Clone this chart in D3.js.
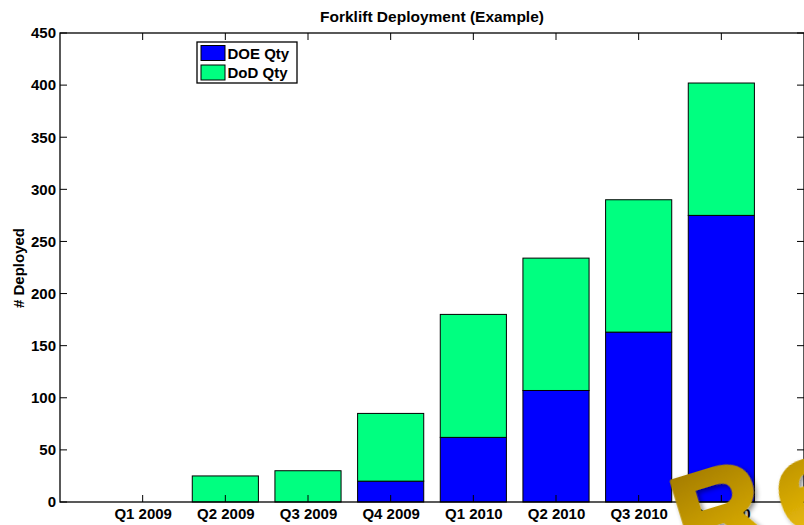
<!DOCTYPE html>
<html>
<head>
<meta charset="utf-8">
<script src="https://cdn.jsdelivr.net/npm/d3@7"></script>
<style>
html,body{margin:0;padding:0;background:#fff;overflow:hidden;}
svg{display:block;font-family:"Liberation Sans",Arial,sans-serif;}
</style>
</head>
<body>
<svg id="chart" width="804" height="525"></svg>
<script>
const categories = ["Q1 2009","Q2 2009","Q3 2009","Q4 2009","Q1 2010","Q2 2010","Q3 2010","Q4 2010"];
const doeQty = [0,0,0,20,62,107,163,275];
const dodQty = [0,25,30,65,118,127,127,127];
const yTicks = [0,50,100,150,200,250,300,350,400,450];
const seriesNames = ["DOE Qty","DoD Qty"];
const seriesColors = ["#0000ff","#00ff80"];

const svg = d3.select("#chart");
const L = 60, R = 804, T = 33, B = 502;

const x = d3.scaleLinear().domain([0, categories.length + 1]).range([L, R]);
const y = d3.scaleLinear().domain([0, 450]).range([B, T]);
const bw = (x(1) - x(0)) * 0.8;

// watermark defs
const defs = svg.append("defs");
const grad = defs.append("linearGradient").attr("id","gold").attr("x1","0").attr("y1","0").attr("x2","0.3").attr("y2","1");
grad.append("stop").attr("offset","0%").attr("stop-color","#967000");
grad.append("stop").attr("offset","50%").attr("stop-color","#c39800");
grad.append("stop").attr("offset","100%").attr("stop-color","#eebf0c");
const f = defs.append("filter").attr("id","shadow").attr("x","-20%").attr("y","-20%").attr("width","140%").attr("height","140%");
f.append("feDropShadow").attr("dx",2).attr("dy",3).attr("stdDeviation",2.5).attr("flood-color","#000").attr("flood-opacity",0.45);

// stacked bars
const stack = categories.map((c,i)=>({c, i, doe: doeQty[i], dod: dodQty[i]}));
const g = svg.append("g");
g.selectAll("rect.doe").data(stack).join("rect").attr("class","doe")
  .attr("x", d => x(d.i+1) - bw/2).attr("width", bw)
  .attr("y", d => y(d.doe)).attr("height", d => y(0) - y(d.doe))
  .attr("fill", seriesColors[0]).attr("stroke","#000").attr("stroke-width",1);
g.selectAll("rect.dod").data(stack).join("rect").attr("class","dod")
  .attr("x", d => x(d.i+1) - bw/2).attr("width", bw)
  .attr("y", d => y(d.doe + d.dod)).attr("height", d => y(d.doe) - y(d.doe + d.dod))
  .attr("fill", seriesColors[1]).attr("stroke","#000").attr("stroke-width",1);

// axes
const axisG = svg.append("g").attr("stroke","#000").attr("stroke-width",1.3).attr("fill","none");
axisG.append("rect").attr("x",L).attr("y",T).attr("width",R-L).attr("height",B-T);

const tickLen = 7;
const tickG = svg.append("g").attr("stroke","#000").attr("stroke-width",1);
yTicks.forEach(t=>{
  tickG.append("line").attr("x1",L).attr("x2",L+tickLen).attr("y1",y(t)).attr("y2",y(t));
  tickG.append("line").attr("x1",R-tickLen).attr("x2",R).attr("y1",y(t)).attr("y2",y(t));
});
categories.forEach((c,i)=>{
  tickG.append("line").attr("x1",x(i+1)).attr("x2",x(i+1)).attr("y1",B).attr("y2",B-tickLen);
  tickG.append("line").attr("x1",x(i+1)).attr("x2",x(i+1)).attr("y1",T).attr("y2",T+tickLen);
});

const FS = "15px";
const yAxis = d3.axisLeft(y).tickValues(yTicks).tickSize(0).tickPadding(4);
const ya = svg.append("g").attr("transform",`translate(${L},0)`).call(yAxis);
ya.select(".domain").remove();
ya.selectAll("text").attr("font-size",FS).attr("font-weight","bold").attr("font-family","Liberation Sans, Arial, sans-serif").attr("fill","#000");

const xAxis = d3.axisBottom(x).tickValues(categories.map((c,i)=>i+1)).tickFormat(v=>categories[v-1]).tickSize(0).tickPadding(6);
const xa = svg.append("g").attr("transform",`translate(0,${B})`).call(xAxis);
xa.select(".domain").remove();
xa.selectAll("text").attr("font-size",FS).attr("font-weight","bold").attr("font-family","Liberation Sans, Arial, sans-serif").attr("fill","#000");

// title
svg.append("text").attr("x",432).attr("y",22).attr("text-anchor","middle")
  .attr("font-size","15.5px").attr("font-weight","bold").text("Forklift Deployment (Example)");

// y label
svg.append("text").attr("transform","translate(24,268) rotate(-90)").attr("text-anchor","middle")
  .attr("font-size",FS).attr("font-weight","bold").text("# Deployed");

// legend
const lg = svg.append("g");
lg.append("rect").attr("x",197).attr("y",42).attr("width",100).attr("height",41)
  .attr("fill","#fff").attr("stroke","#000").attr("stroke-width",1.3);
seriesNames.forEach((n,i)=>{
  lg.append("rect").attr("x",201).attr("y",45.5 + i*19.5).attr("width",24).attr("height",15)
    .attr("fill",seriesColors[i]).attr("stroke","#000").attr("stroke-width",1);
  lg.append("text").attr("x",227.5).attr("y",58.5 + i*19.5).attr("font-size",FS).attr("font-weight","bold").text(n);
});

// watermark
svg.append("text").attr("transform","translate(689,566) rotate(-17)")
  .attr("font-size","124px").attr("font-weight","bold").attr("font-family","Liberation Sans, Arial, sans-serif")
  .attr("letter-spacing","14px")
  .attr("fill","url(#gold)").attr("stroke","url(#gold)").attr("stroke-width",4).attr("stroke-linejoin","round")
  .attr("filter","url(#shadow)").text("Re");
</script>
</body>
</html>
